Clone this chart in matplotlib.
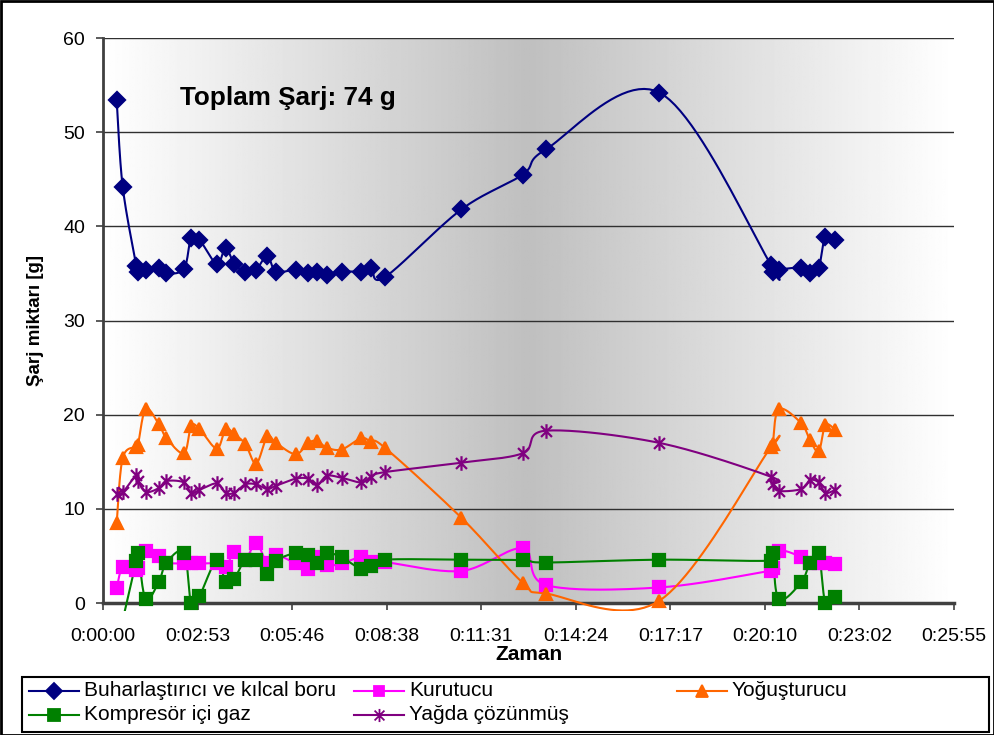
import matplotlib

matplotlib.use("Agg")
import matplotlib.pyplot as plt
import numpy as np
from matplotlib.lines import Line2D
from matplotlib.patches import Rectangle
from matplotlib.path import Path
from matplotlib.ticker import FuncFormatter, MultipleLocator

plt.rcParams["font.family"] = ["Liberation Sans", "DejaVu Sans"]

# measurement times [s]
zaman = [
    25, 36, 61, 64, 78, 102, 116, 148, 161, 176, 208, 224, 240, 260, 280, 300,
    316, 352, 375, 391, 409, 436, 472, 490, 515,
    655, 767, 810, 1017,
    1221, 1224, 1235, 1276, 1292, 1308, 1320, 1338,
]

# charge per component [g]
buharlastirici = [
    53.4, 44.2, 35.8, 35.2, 35.4, 35.6, 35.0, 35.5, 38.8, 38.6, 36.0, 37.7,
    36.0, 35.2, 35.4, 36.9, 35.2, 35.4, 35.0, 35.2, 34.8, 35.2, 35.2, 35.6, 34.6,
    41.8, 45.5, 48.2, 54.2,
    35.9, 35.2, 35.4, 35.6, 35.0, 35.6, 38.9, 38.6,
]
kurutucu = [
    1.55, 3.8, 3.5, 3.7, 5.55, 5.0, 4.3, 4.2, 4.3, 4.2, 4.2, 3.8, 5.45, 4.6,
    6.4, 4.2, 5.1, 4.2, 3.6, 4.9, 4.0, 4.2, 4.9, 4.4, 4.35,
    3.4, 5.8, 1.9, 1.65,
    3.45, 3.7, 5.55, 4.9, 4.3, 4.2, 4.3, 4.15,
]
yogusturucu = [
    8.5, 15.4, 16.6, 16.8, 20.6, 19.0, 17.5, 15.9, 18.8, 18.5, 16.4, 18.5,
    17.9, 16.9, 14.8, 17.7, 17.0, 15.8, 17.0, 17.2, 16.5, 16.3, 17.5, 17.1, 16.5,
    9.05, 2.15, 1.0, 0.25,
    16.6, 16.9, 20.6, 19.1, 17.3, 16.1, 18.9, 18.4,
]
kompresor = [
    -4.6, -1.8, 4.5, 5.3, 0.4, 2.25, 4.3, 5.35, 0.0, 0.7, 4.6, 2.2, 2.6, 4.6,
    4.55, 3.1, 4.5, 5.3, 5.1, 4.3, 5.3, 4.85, 3.6, 3.9, 4.6,
    4.6, 4.55, 4.3, 4.6,
    4.5, 5.3, 0.4, 2.2, 4.3, 5.3, 0.0, 0.6,
]
yagda = [
    11.6, 11.75, 13.6, 13.0, 11.8, 12.2, 12.95, 12.8, 11.65, 12.0, 12.7, 11.7,
    11.7, 12.6, 12.6, 12.1, 12.45, 13.2, 13.2, 12.5, 13.5, 13.3, 12.8, 13.4, 13.9,
    14.9, 15.9, 18.3, 17.0,
    13.4, 12.6, 11.9, 12.1, 13.05, 12.8, 11.7, 12.0,
]

# asterisk: vertical bar + X
star = Path(
    [(0, -1), (0, 1), (-0.75, -0.75), (0.75, 0.75), (-0.75, 0.75), (0.75, -0.75)],
    [Path.MOVETO, Path.LINETO] * 3,
)

series = [
    ("Buharlaştırıcı ve kılcal boru", buharlastirici, "#000080", "D", 8.5),
    ("Kurutucu", kurutucu, "#FF00FF", "s", 8),
    ("Yoğuşturucu", yogusturucu, "#FF6600", "^", 9),
    ("Kompresör içi gaz", kompresor, "#008000", "s", 9),
    ("Yağda çözünmüş", yagda, "#800080", star, 10.5),
]


def smooth(x, y, n=24):
    # Catmull-Rom style Bezier smoothing through every point
    p = np.column_stack([x, y]).astype(float)
    p = np.vstack([p[0], p, p[-1]])
    out = []
    s = np.linspace(0, 1, n)[:, None]
    for i in range(1, len(p) - 2):
        p0, p1, p2, p3 = p[i - 1], p[i], p[i + 1], p[i + 2]
        c1 = p1 + (p2 - p0) / 6
        c2 = p2 - (p3 - p1) / 6
        seg = (1 - s) ** 3 * p1 + 3 * (1 - s) ** 2 * s * c1 + 3 * (1 - s) * s ** 2 * c2 + s ** 3 * p2
        out.append(seg if i == 1 else seg[1:])
    out = np.vstack(out)
    return out[:, 0], out[:, 1]


fig = plt.figure(figsize=(9.94, 7.35), dpi=100)
ax = fig.add_axes([103 / 994, 132 / 735, 851 / 994, 565 / 735])
ax.set_xlim(0, 1555.2)
ax.set_ylim(0, 60)

# grey band in the middle of the plot area
u = np.linspace(0, 1, 512)
shade = 1 - 0.25 * (1 - np.abs(2 * u - 1))
ax.imshow(
    np.tile(shade, (2, 1)),
    cmap="gray",
    vmin=0,
    vmax=1,
    extent=[0, 1555.2, 0, 60],
    aspect="auto",
    zorder=0,
)

ax.yaxis.set_major_locator(MultipleLocator(10))
ax.xaxis.set_major_locator(MultipleLocator(172.8))
ax.grid(axis="y", color="#303030", linewidth=1.0, zorder=1)


def hms(v, pos):
    s = int(round(v))
    return f"{s // 3600}:{s % 3600 // 60:02d}:{s % 60:02d}"


ax.xaxis.set_major_formatter(FuncFormatter(hms))

# lines may run a little under the zero line before being cut
line_clip = Rectangle((0, -0.8), 1555.2, 61, transform=ax.transData)

for name, vals, color, marker, ms in series:
    xs, ys = smooth(zaman, vals)
    ln, = ax.plot(xs, ys, color=color, linewidth=1.5, zorder=3)
    ln.set_clip_path(line_clip)
    t = np.array(zaman, dtype=float)
    v = np.array(vals, dtype=float)
    keep = v >= 0
    ax.plot(
        t[keep], v[keep], linestyle="none", marker=marker, markersize=ms,
        color=color, markeredgecolor=color, markeredgewidth=1.6,
        zorder=4, clip_on=False,
    )

for side in ["top", "right"]:
    ax.spines[side].set_visible(False)
ax.spines["left"].set_color("#404040")
ax.spines["left"].set_linewidth(2)
ax.spines["bottom"].set_color("#404040")
ax.spines["bottom"].set_linewidth(2.5)
ax.spines["bottom"].set_zorder(2)
ax.tick_params(axis="both", labelsize=14, color="#404040", length=5, width=1.2)
ax.tick_params(axis="y", pad=8)
ax.tick_params(axis="x", pad=13)

ax.set_xlabel("Zaman", fontsize=15, fontweight="bold", labelpad=0)
ax.set_ylabel("Şarj miktarı [g]", fontsize=13.5, fontweight="bold", labelpad=14)

ax.text(
    0.0905, 0.894, "Toplam Şarj: 74 g", transform=ax.transAxes,
    fontsize=18.8, fontweight="bold", va="center", ha="left", zorder=5,
)

# legend box along the bottom
W, H = 994, 735
fig.add_artist(
    Rectangle((22 / W, 3 / H), 967 / W, 55 / H, transform=fig.transFigure,
              facecolor="white", edgecolor="black", linewidth=1.5)
)
slots = [(29, 691), (354, 691), (677, 691), (29, 715), (354, 715)]
for (name, vals, color, marker, ms), (lx, ly) in zip(series, slots):
    yy = 1 - ly / H
    fig.add_artist(
        Line2D([lx / W, (lx + 50) / W], [yy, yy], transform=fig.transFigure,
               color=color, linewidth=1.5)
    )
    fig.add_artist(
        Line2D([(lx + 25) / W], [yy], transform=fig.transFigure, color=color,
               marker=marker, markersize=ms * 0.9, markeredgewidth=1.3,
               markeredgecolor=color, linestyle="none")
    )
    fig.text((lx + 55) / W, yy, name, fontsize=15, va="center", ha="left")

# outer frame
fig.add_artist(
    Rectangle((0.5 / W, 0.5 / H), 1 - 1 / W, 1 - 1 / H, transform=fig.transFigure,
              facecolor="none", edgecolor="black", linewidth=2)
)

fig.savefig("out.png", dpi=100)
